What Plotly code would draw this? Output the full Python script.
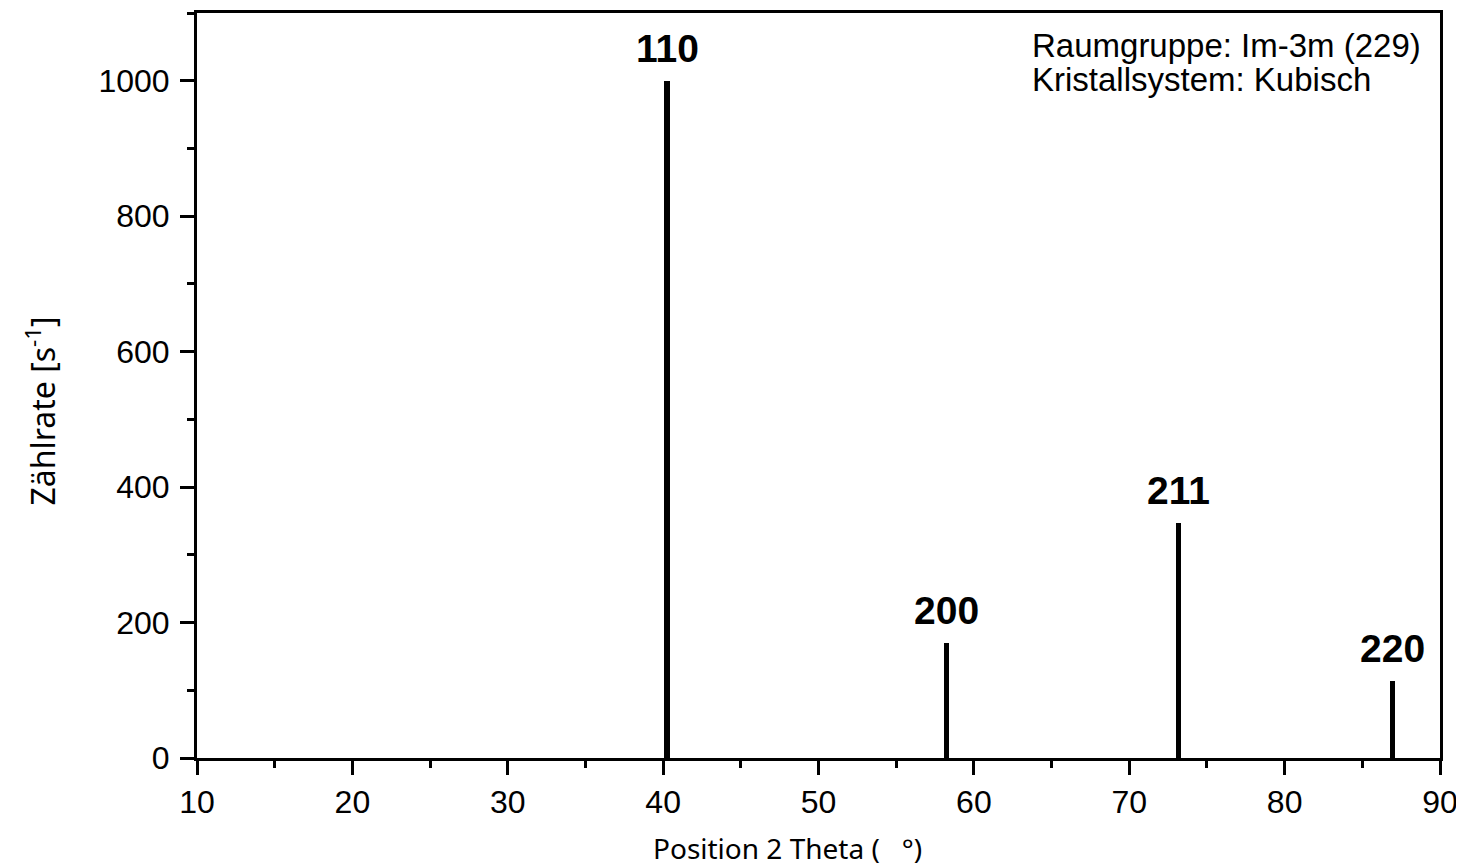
import plotly.graph_objects as go

# Data
peak_pos = [40.25, 58.25, 73.15, 86.95]
peak_int = [1000, 170, 347, 113]
peak_hkl = ["110", "200", "211", "220"]

x_range = [10, 90]
y_range = [0, 1100]
x_title = "Position 2 Theta (\u00a0\u00a0\u00a0°)"
y_title = "Zählrate [s<sup>-1</sup>]"
info_lines = ["Raumgruppe: Im-3m (229)", "Kristallsystem: Kubisch"]
info_y = [0.957, 0.911]

fig = go.Figure()
fig.add_trace(go.Bar(
    x=peak_pos, y=peak_int, width=0.34,
    marker=dict(color="black", line=dict(width=0)),
    showlegend=False, hoverinfo="x+y",
))

for xp, yp, lab in zip(peak_pos, peak_int, peak_hkl):
    fig.add_annotation(x=xp, y=yp, text="<b>%s</b>" % lab, showarrow=False,
                       yanchor="bottom", yshift=9,
                       font=dict(family="Liberation Sans, Arial", size=39, color="black"))

for line, yy in zip(info_lines, info_y):
    fig.add_annotation(xref="paper", yref="paper", x=0.670, y=yy, xanchor="left", yanchor="middle",
                       text=line, showarrow=False, align="left",
                       font=dict(family="Liberation Sans, Arial", size=33, color="black"))

# axis titles placed as annotations for exact positioning
fig.add_annotation(xref="paper", yref="paper", x=0.4747, y=-0.1203, xanchor="center", yanchor="middle",
                   text=x_title, showarrow=False,
                   font=dict(family="Noto Sans, Open Sans", size=28, color="black"))
fig.add_annotation(xref="paper", yref="paper", x=-0.1263, y=0.465, xanchor="center", yanchor="middle",
                   text=y_title, showarrow=False, textangle=-90,
                   font=dict(family="Noto Sans, Open Sans", size=32, color="black"))

tick_font = dict(family="Liberation Sans, Arial", size=32, color="black")

fig.update_xaxes(range=x_range, dtick=10, tick0=10, ticks="outside", ticklen=14, tickwidth=3,
                 tickcolor="black", showline=True, linewidth=3, linecolor="black", mirror=True,
                 showgrid=False, zeroline=False, tickfont=tick_font,
                 minor=dict(dtick=5, ticks="outside", ticklen=7, tickwidth=3, tickcolor="black"))
fig.update_yaxes(range=y_range, dtick=200, tick0=0, ticks="outside", ticklen=14, tickwidth=3,
                 tickcolor="black", showline=True, linewidth=3, linecolor="black", mirror=True,
                 showgrid=False, zeroline=False, tickfont=tick_font, ticklabelstandoff=4,
                 minor=dict(dtick=100, ticks="outside", ticklen=7, tickwidth=3, tickcolor="black"))

fig.update_layout(width=1456, height=860, plot_bgcolor="white", paper_bgcolor="white",
                  margin=dict(l=189, r=24, t=2, b=110), bargap=0)

fig.write_html("out.html")
